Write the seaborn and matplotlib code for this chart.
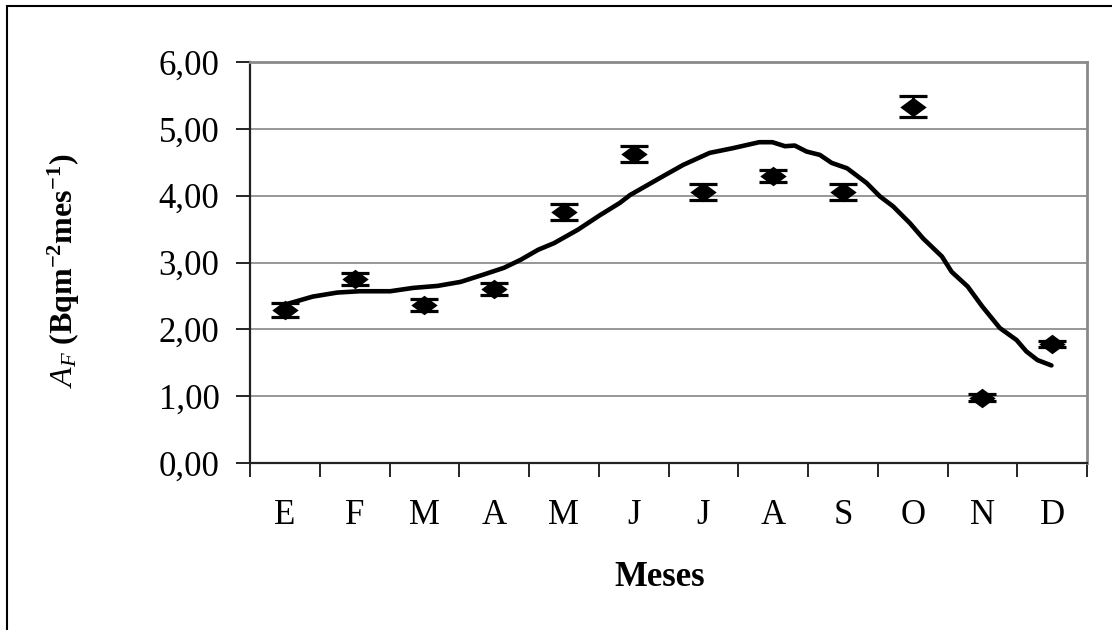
import numpy as np
import pandas as pd
import matplotlib
matplotlib.use("Agg")
import matplotlib.pyplot as plt
from matplotlib.ticker import FuncFormatter, FixedLocator
from matplotlib.patches import Rectangle
import seaborn as sns

# ---- data ----
months = ["E", "F", "M", "A", "M", "J", "J", "A", "S", "O", "N", "D"]
af_values = [2.29, 2.76, 2.37, 2.60, 3.75, 4.63, 4.06, 4.30, 4.06, 5.33, 0.98, 1.78]
af_errors = [0.10, 0.09, 0.09, 0.09, 0.12, 0.12, 0.12, 0.09, 0.12, 0.16, 0.05, 0.05]

trend_pos = [0.00, 0.40, 0.75, 1.07, 1.51, 1.84, 2.19, 2.52, 2.85, 3.14, 3.38, 3.63,
             3.86, 4.20, 4.52, 4.80, 4.95, 5.42, 5.71, 6.09, 6.42, 6.80, 6.99, 7.17,
             7.31, 7.48, 7.67, 7.84, 8.06, 8.34, 8.53, 8.72, 8.96, 9.15, 9.42, 9.56,
             9.79, 10.00, 10.25, 10.49, 10.63, 10.79, 10.99]
trend_val = [2.37, 2.49, 2.55, 2.57, 2.57, 2.62, 2.65, 2.71, 2.82, 2.92, 3.04, 3.19,
             3.29, 3.49, 3.71, 3.89, 4.01, 4.29, 4.46, 4.64, 4.71, 4.80, 4.80, 4.74,
             4.75, 4.66, 4.61, 4.49, 4.41, 4.19, 3.99, 3.84, 3.59, 3.36, 3.09, 2.86,
             2.64, 2.34, 2.02, 1.84, 1.67, 1.54, 1.46]

y_ticks = [0, 1, 2, 3, 4, 5, 6]

sns.set_theme(style="white")
plt.rcParams["font.family"] = ["Liberation Serif", "DejaVu Serif"]
plt.rcParams["mathtext.fontset"] = "custom"
plt.rcParams["mathtext.rm"] = "Liberation Serif"
plt.rcParams["mathtext.it"] = "Liberation Serif:italic"
plt.rcParams["mathtext.bf"] = "Liberation Serif:bold"
plt.rcParams["text.color"] = "black"
plt.rcParams["axes.labelcolor"] = "black"
plt.rcParams["xtick.color"] = "black"
plt.rcParams["ytick.color"] = "black"

DPI = 100
fig = plt.figure(figsize=(11.12, 6.30), dpi=DPI)
ax = fig.add_axes([250 / 1112, 1 - 463 / 630, 837 / 1112, 401 / 630])

pos = np.arange(len(months))
df_pts = pd.DataFrame({"pos": pos, "val": af_values, "err": af_errors})
df_trend = pd.DataFrame({"pos": trend_pos, "val": trend_val})

# trend line
sns.lineplot(data=df_trend, x="pos", y="val", color="black", lw=3.3, ax=ax,
             zorder=2, sort=False)

# error bars
ax.errorbar(df_pts["pos"], df_pts["val"], yerr=df_pts["err"], fmt="none",
            ecolor="black", elinewidth=2.0, capsize=10, capthick=2.3, zorder=3)

# diamond markers (wider than tall)
diamond = [(-1, 0), (0, 0.74), (1, 0), (0, -0.74), (-1, 0)]
sns.scatterplot(data=df_pts, x="pos", y="val", marker=diamond, s=19 ** 2,
                color="black", edgecolor="black", linewidth=0, ax=ax, zorder=4)

# axes limits and ticks
ax.set_xlim(-0.5, len(months) - 0.5)
ax.set_ylim(0, 6)
ax.yaxis.set_major_locator(FixedLocator(y_ticks))
ax.yaxis.set_major_formatter(FuncFormatter(lambda v, p: f"{v:.2f}".replace(".", ",")))
ax.xaxis.set_major_locator(FixedLocator(np.arange(-0.5, len(months), 1.0)))
ax.xaxis.set_major_formatter(FuncFormatter(lambda v, p: ""))
ax.xaxis.set_minor_locator(FixedLocator(pos))
ax.set_xticks(pos, months, minor=True)

ax.tick_params(axis="y", which="major", direction="out", length=10, width=1.2,
               color="black", labelcolor="black", pad=12, labelsize=25, left=True)
ax.tick_params(axis="x", which="major", direction="out", length=10, width=1.2,
               color="black", bottom=True)
ax.tick_params(axis="x", which="minor", length=0, pad=26, labelsize=25,
               labelcolor="black", bottom=True)

ax.yaxis.grid(True, color="#7a7a7a", lw=1.1)
ax.xaxis.grid(False)
ax.set_axisbelow(True)

for side in ["top", "right"]:
    ax.spines[side].set_color("#8a8a8a")
    ax.spines[side].set_linewidth(2.0)
for side in ["left", "bottom"]:
    ax.spines[side].set_color("#222222")
    ax.spines[side].set_linewidth(1.6)

ax.set_ylabel(r"$\mathit{A}_{\mathit{F}}\ \mathbf{(Bqm^{-2}mes^{-1})}$", fontsize=23,
              color="black")
ax.yaxis.set_label_coords((82 - 250) / 837, 0.48)
ax.set_xlabel("Meses", fontsize=25, fontweight="bold", color="black")
ax.xaxis.set_label_coords(0.49, (463 - 577) / 401)
ax.xaxis.label.set_va("center")

# outer frame (extends past right and bottom edges)
fig.add_artist(Rectangle((7 / 1112, -0.05), 1.2, 1 - 6 / 630 + 0.05,
                         transform=fig.transFigure, fill=False,
                         edgecolor="black", lw=1.5))

fig.savefig("out.png", dpi=DPI)
